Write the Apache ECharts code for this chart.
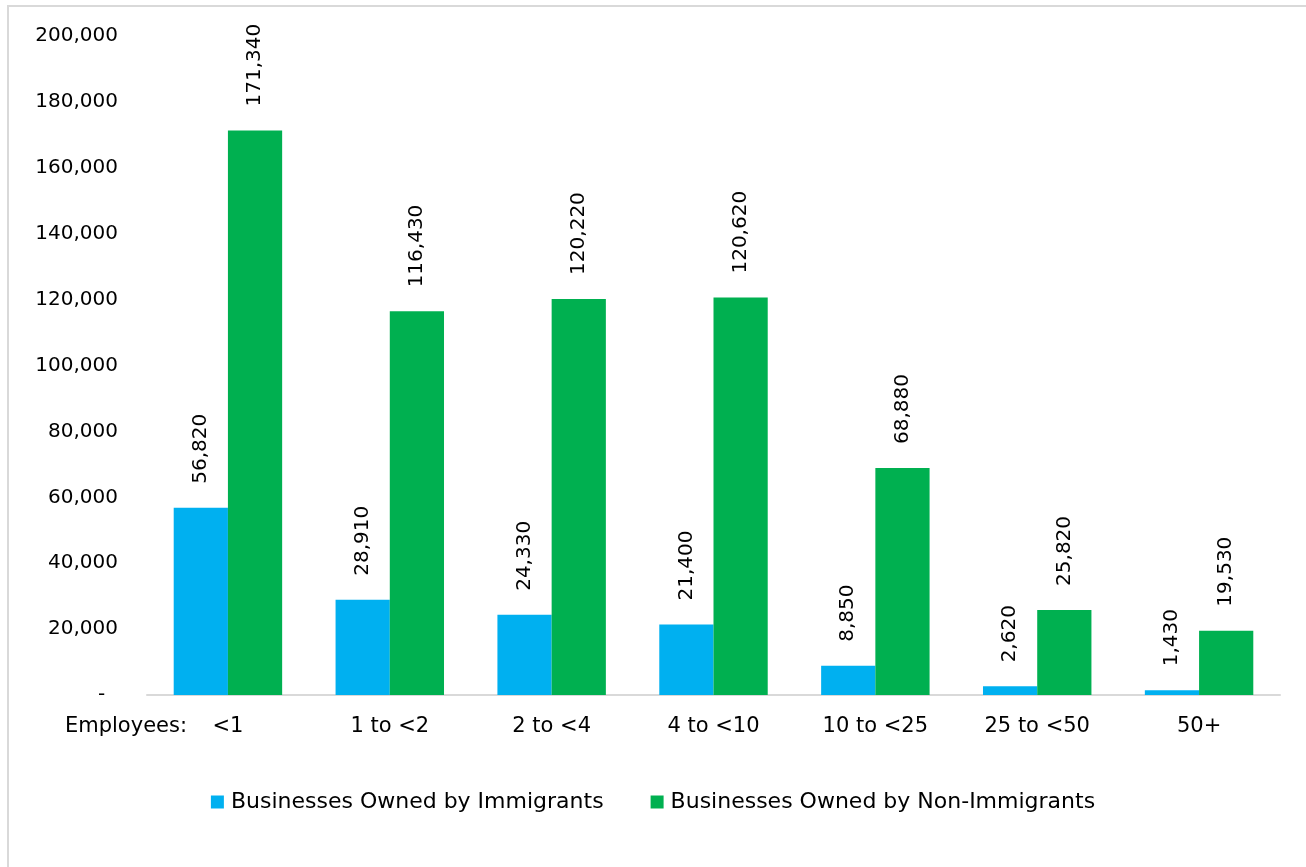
<!DOCTYPE html>
<html>
<head>
<meta charset="utf-8">
<style>
  html, body { margin: 0; padding: 0; background: #ffffff; }
  #chart { width: 1306px; height: 867px; }
</style>
<script src="https://cdn.jsdelivr.net/npm/echarts@6/dist/echarts.min.js"></script>
</head>
<body>
<div id="chart"></div>
<script>
// Business counts by number of employees
const categories = ['<1', '1 to <2', '2 to <4', '4 to <10', '10 to <25', '25 to <50', '50+'];
const immigrantOwned = [56820, 28910, 24330, 21400, 8850, 2620, 1430];
const nonImmigrantOwned = [171340, 116430, 120220, 120620, 68880, 25820, 19530];
const seriesNames = ['Businesses Owned by Immigrants', 'Businesses Owned by Non-Immigrants'];
const axisTitle = 'Employees:';

const FONT = 'DejaVu Sans';
const fmt = v => v.toLocaleString('en-US');

const chart = echarts.init(document.getElementById('chart'), null, { renderer: 'canvas' });

const barLabel = {
  show: true,
  position: 'top',
  rotate: 90,
  align: 'left',
  verticalAlign: 'middle',
  distance: 24,
  fontFamily: FONT,
  fontSize: 20,
  color: '#000',
  formatter: p => fmt(p.value)
};

chart.setOption({
  animation: false,
  backgroundColor: '#ffffff',
  textStyle: { fontFamily: FONT },
  grid: { left: 147, right: 26, top: 36, bottom: 172, containLabel: false },
  xAxis: {
    type: 'category',
    data: categories,
    axisLine: { show: true, lineStyle: { color: '#d9d9d9', width: 2 } },
    axisTick: { show: false },
    axisLabel: { fontFamily: FONT, fontSize: 21, color: '#000', margin: 21, interval: 0 }
  },
  yAxis: {
    type: 'value',
    min: 0,
    max: 200000,
    interval: 20000,
    splitLine: { show: false },
    axisLine: { show: false },
    axisTick: { show: false },
    axisLabel: {
      fontFamily: FONT, fontSize: 20, color: '#000', margin: 29,
      formatter: v => (v === 0 ? '-  ' : fmt(v))
    }
  },
  legend: {
    data: seriesNames,
    top: 786,
    left: 'center',
    icon: 'rect',
    itemWidth: 13,
    itemHeight: 13,
    itemGap: 47,
    textStyle: { fontFamily: FONT, fontSize: 22, color: '#000', padding: [0, 0, 0, 2] }
  },
  graphic: [
    {
      type: 'rect',
      silent: true,
      shape: { x: 8, y: 6, width: 1400, height: 1000 },
      style: { fill: 'none', stroke: '#d9d9d9', lineWidth: 2 }
    },
    {
      type: 'text',
      silent: true,
      style: {
        x: 187, y: 727, text: axisTitle,
        font: '21px "DejaVu Sans"', fill: '#000',
        textAlign: 'right', textVerticalAlign: 'middle'
      }
    }
  ],
  series: [
    {
      name: seriesNames[0],
      type: 'bar',
      data: immigrantOwned,
      itemStyle: { color: '#00b0f0' },
      barGap: '0%',
      barCategoryGap: '33%',
      label: barLabel
    },
    {
      name: seriesNames[1],
      type: 'bar',
      data: nonImmigrantOwned,
      itemStyle: { color: '#00b050' },
      barGap: '0%',
      barCategoryGap: '33%',
      label: barLabel
    }
  ]
});
</script>
</body>
</html>
